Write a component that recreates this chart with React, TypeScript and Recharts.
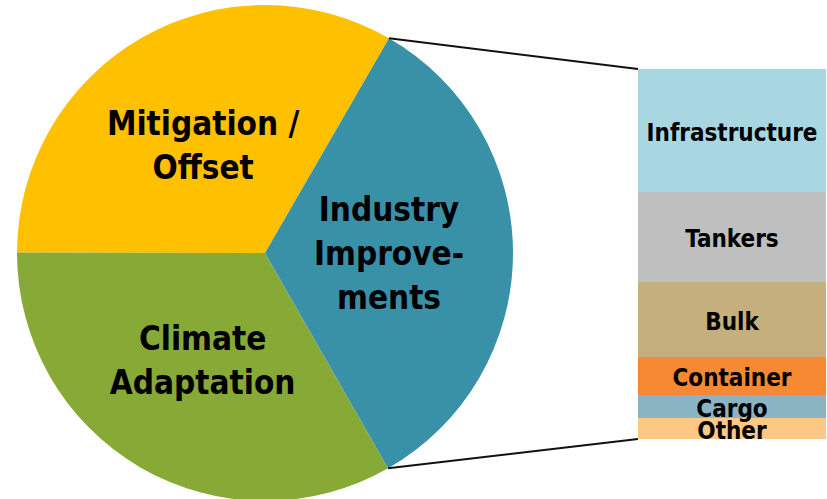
import React from 'react';
import { PieChart, Pie, Cell, BarChart, Bar, XAxis, YAxis } from 'recharts';

// Pie data
const pieNames = ['Mitigation / Offset', 'Climate Adaptation', 'Industry Improvements'];
const pieLabelLines = [['Mitigation /', 'Offset'], ['Climate', 'Adaptation'], ['Industry', 'Improve-', 'ments']];
const pieValues = [33.3, 33.3, 33.4];
const pieColors = ['#FFC000', '#86AA35', '#3891A7'];

// Breakdown bar (bottom to top)
const barNames = ['Other', 'Cargo', 'Container', 'Bulk', 'Tankers', 'Infrastructure'];
const barValues = [21, 23, 38, 75, 90, 123];
const barColors = ['#FBC985', '#8AB4C2', '#F68932', '#C4AF7D', '#BFBFBF', '#A8D7E2'];

// Layout
const W = 827;
const H = 499;
const PIE_CX = 265;
const PIE_CY = 253;
const PIE_R = 248;
const BAR_LEFT = 638;
const BAR_TOP = 69;
const BAR_W = 188;
const BAR_H = 370;
const BAR_PAD = 14;

const FONT = "'DejaVu Sans Condensed', 'DejaVu Sans', sans-serif";
const RAD = Math.PI / 180;

const pieData = pieNames.map((n, i) => ({ name: n, value: pieValues[i] }));
const barRow: Record<string, any> = { name: 'Industry Improvements' };
barNames.forEach((n, i) => { barRow[n] = barValues[i]; });
const barData = [barRow];
const barTotal = barValues.reduce((a, b) => a + b, 0);

const polar = (cx: number, cy: number, r: number, a: number) => ({
  x: cx + Math.cos(-a * RAD) * r,
  y: cy + Math.sin(-a * RAD) * r,
});

const renderPieLabel = (props: any) => {
  const { cx, cy, midAngle, outerRadius, index, startAngle, endAngle } = props;
  const p = polar(cx, cy, outerRadius * 0.5, midAngle);
  const lines = pieLabelLines[index];
  const lh = 44;
  const y0 = p.y - ((lines.length - 1) * lh) / 2;
  const isLast = index === pieNames.length - 1;
  let connectors = null;
  if (isLast) {
    const a = polar(cx, cy, outerRadius, endAngle);
    const b = polar(cx, cy, outerRadius, startAngle);
    connectors = (
      <g>
        <line x1={a.x} y1={a.y} x2={BAR_LEFT} y2={BAR_TOP} stroke="#111" strokeWidth={2} />
        <line x1={b.x} y1={b.y} x2={BAR_LEFT} y2={BAR_TOP + BAR_H} stroke="#111" strokeWidth={2} />
      </g>
    );
  }
  return (
    <g key={`pl-${index}`}>
      {connectors}
      {lines.map((t, i) => (
        <text
          key={i}
          x={p.x}
          y={y0 + i * lh}
          textAnchor="middle"
          dominantBaseline="central"
          fontFamily={FONT}
          fontWeight="bold"
          fontSize={33}
          fill="#000"
        >
          {t}
        </text>
      ))}
    </g>
  );
};

const makeBarLabel = (name: string) => (props: any) => {
  const { x, y, width, height } = props;
  return (
    <text
      x={x + width / 2}
      y={y + height / 2 + 2}
      textAnchor="middle"
      dominantBaseline="central"
      fontFamily={FONT}
      fontWeight="bold"
      fontSize={24}
      fill="#000"
    >
      {name}
    </text>
  );
};

export default function App() {
  return (
    <div style={{ position: 'absolute', left: 0, top: 0, width: W, height: H, background: '#fff' }}>
      <div style={{ position: 'absolute', left: 0, top: 0 }}>
        <PieChart width={W} height={H} margin={{ top: 0, right: 0, bottom: 0, left: 0 }}>
          <Pie
            data={pieData}
            dataKey="value"
            nameKey="name"
            cx={PIE_CX}
            cy={PIE_CY}
            outerRadius={PIE_R}
            startAngle={60}
            endAngle={420}
            stroke="none"
            label={renderPieLabel}
            labelLine={false}
            isAnimationActive={false}
          >
            {pieData.map((d, i) => (
              <Cell key={d.name} fill={pieColors[i]} />
            ))}
          </Pie>
        </PieChart>
      </div>
      <div style={{ position: 'absolute', left: BAR_LEFT, top: BAR_TOP }}>
        <BarChart
          width={BAR_W}
          height={BAR_H + BAR_PAD}
          data={barData}
          margin={{ top: 0, right: 0, bottom: BAR_PAD, left: 0 }}
          barCategoryGap={0}
          barGap={0}
        >
          <XAxis dataKey="name" hide />
          <YAxis hide domain={[0, barTotal]} />
          {barNames.map((n, i) => (
            <Bar
              key={n}
              dataKey={n}
              stackId="a"
              fill={barColors[i]}
              isAnimationActive={false}
              label={makeBarLabel(n)}
            />
          ))}
        </BarChart>
      </div>
    </div>
  );
}
